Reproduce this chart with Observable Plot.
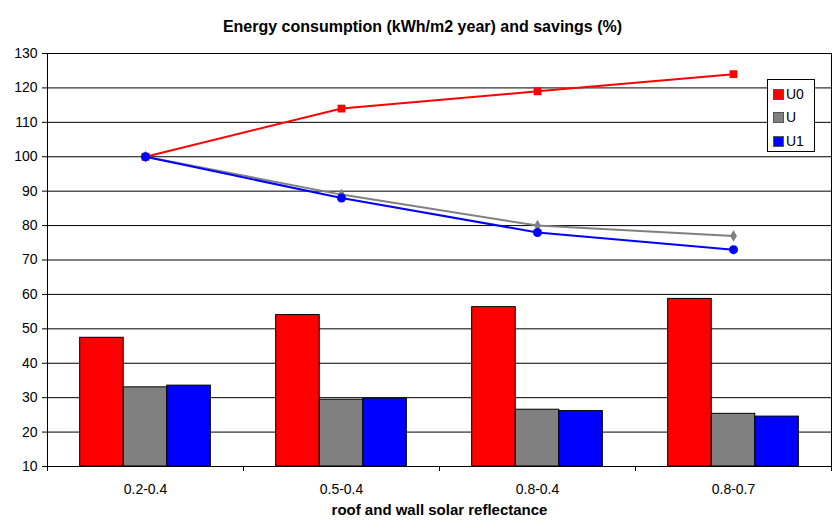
<!DOCTYPE html>
<html><head><meta charset="utf-8">
<script src="https://cdn.jsdelivr.net/npm/d3@7"></script>
<script src="https://cdn.jsdelivr.net/npm/@observablehq/plot@0.6"></script>
<style>
body{margin:0;background:#fff;font-family:Arial,"Liberation Sans",sans-serif;}
#wrap{position:relative;width:838px;height:520px;}
#legend{position:absolute;left:767px;top:79px;width:46px;height:71px;border:1px solid #000;background:#fff;font-size:14px;}
#legend .row{position:absolute;left:5px;height:16px;line-height:16px;display:flex;align-items:center;}
#legend .sw{width:9px;height:9px;border:1px solid #555;margin-right:2px;}
</style></head>
<body><div id="wrap"></div>
<script>
const categories = ["0.2-0.4", "0.5-0.4", "0.8-0.4", "0.8-0.7"];
const seriesNames = ["U0", "U", "U1"];
const seriesColors = ["#ff0000", "#808080", "#0000ff"];
const consumptionU0 = [47.4, 54.0, 56.3, 58.7];
const consumptionU = [33.0, 29.4, 26.5, 25.3];
const consumptionU1 = [33.5, 29.7, 26.1, 24.5];
const savingsU0 = [100, 114, 119, 124];
const savingsU = [100, 89, 80, 77];
const savingsU1 = [100, 88, 78, 73];
const yTicks = [10, 20, 30, 40, 50, 60, 70, 80, 90, 100, 110, 120, 130];
const titleText = "Energy consumption (kWh/m2 year) and savings (%)";
const xTitle = "roof and wall solar reflectance";

const consumption = [consumptionU0, consumptionU, consumptionU1];
const savings = [savingsU0, savingsU, savingsU1];

const bars = [];
const lines = [];
categories.forEach((c, i) => {
  seriesNames.forEach((s, j) => {
    bars.push({cat: c, i, j, series: s, value: consumption[j][i]});
    lines.push({cat: c, i, j, series: s, value: savings[j][i]});
  });
});

const barW = 2 / 9;
const color = {domain: seriesNames, range: seriesColors};

const chart = Plot.plot({
  width: 838,
  height: 520,
  marginLeft: 47,
  marginRight: 7,
  marginTop: 53,
  marginBottom: 54,
  style: {fontFamily: "Arial, 'Liberation Sans', sans-serif", fontSize: "14px", background: "#fff", color: "#000"},
  x: {type: "linear", domain: [-0.5, 3.5]},
  y: {domain: [10, 130]},
  color,
  marks: [
    Plot.ruleY(yTicks, {stroke: "#000", strokeWidth: 1}),
    Plot.ruleX([-0.5, 3.5], {stroke: "#000"}),
    Plot.rectY(bars, {
      x1: d => d.i - 1 / 3 + d.j * barW,
      x2: d => d.i - 1 / 3 + (d.j + 1) * barW,
      y1: 10,
      y2: "value",
      fill: "series",
      stroke: "#000",
      strokeWidth: 1
    }),
    Plot.line(lines, {x: "i", y: "value", stroke: "series", z: "series", strokeWidth: 2}),
    Plot.dot(lines.filter(d => d.series === "U0"), {x: "i", y: "value", symbol: "square", r: 4.4, fill: seriesColors[0], stroke: "none"}),
    Plot.dot(lines.filter(d => d.series === "U"), {x: "i", y: "value", symbol: "diamond", r: 3.6, fill: seriesColors[1], stroke: "none"}),
    Plot.dot(lines.filter(d => d.series === "U1"), {x: "i", y: "value", symbol: "circle", r: 4.5, fill: seriesColors[2], stroke: "none"}),
    Plot.axisY({ticks: yTicks, tickSize: 5, tickPadding: 5, fontSize: 14, label: null, stroke: "#000", color: "#000"}),
    Plot.axisX({ticks: [0, 1, 2, 3], tickSize: 0, tickPadding: 18, fontSize: 14, tickFormat: i => categories[i], label: null, color: "#000"}),
    Plot.axisX({ticks: [-0.5, 0.5, 1.5, 2.5, 3.5], tickSize: 5, tickFormat: () => "", label: null, stroke: "#000"}),
    Plot.text([titleText], {frameAnchor: "top", dx: -17, dy: -33, fontWeight: "bold", fontSize: 16, fill: "#000"}),
    Plot.text([xTitle], {frameAnchor: "bottom", dy: 48, fontWeight: "bold", fontSize: 15, fill: "#000"})
  ]
});

const wrap = document.getElementById("wrap");
wrap.appendChild(chart);

const legend = document.createElement("div");
legend.id = "legend";
const rowTops = [6, 29, 53];
seriesNames.forEach((s, j) => {
  const row = document.createElement("div");
  row.className = "row";
  row.style.top = rowTops[j] + "px";
  const sw = document.createElement("div");
  sw.className = "sw";
  sw.style.background = seriesColors[j];
  const t = document.createElement("span");
  t.textContent = s;
  row.appendChild(sw);
  row.appendChild(t);
  legend.appendChild(row);
});
wrap.appendChild(legend);
</script>
</body></html>
